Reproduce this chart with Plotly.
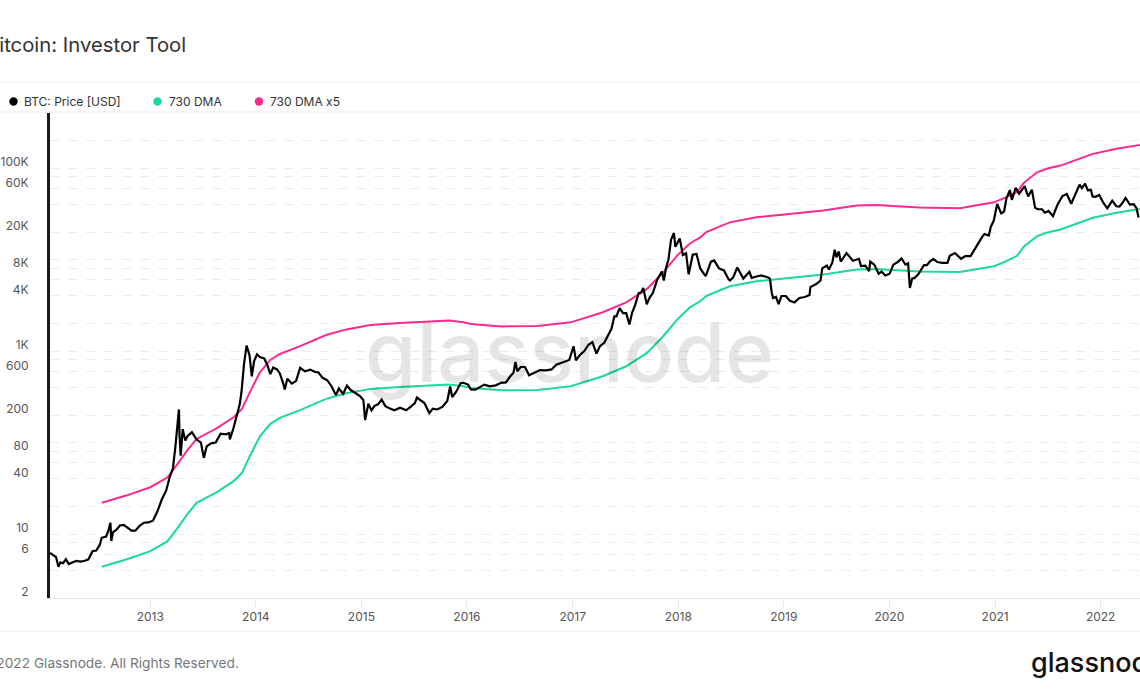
import math
import plotly.graph_objects as go

# ---------------- data ----------------
price_dates = [
    "2012-01-20", "2012-02-01", "2012-02-10", "2012-02-18", "2012-02-25", "2012-03-05", "2012-03-15", "2012-03-25",
    "2012-04-05", "2012-04-20", "2012-05-05", "2012-05-20", "2012-06-01", "2012-06-15", "2012-06-28", "2012-07-10",
    "2012-07-17", "2012-08-01", "2012-08-10", "2012-08-16", "2012-08-19", "2012-08-25", "2012-09-05", "2012-09-18",
    "2012-10-01", "2012-10-15", "2012-10-28", "2012-11-10", "2012-11-25", "2012-12-10", "2012-12-25", "2013-01-10",
    "2013-01-25", "2013-02-10", "2013-02-25", "2013-03-08", "2013-03-20", "2013-03-28", "2013-04-03", "2013-04-10",
    "2013-04-12", "2013-04-16", "2013-04-23", "2013-05-02", "2013-05-10", "2013-05-25", "2013-06-10", "2013-06-25",
    "2013-07-05", "2013-07-15", "2013-07-30", "2013-08-15", "2013-09-01", "2013-09-20", "2013-10-01", "2013-10-03",
    "2013-10-16", "2013-10-28", "2013-11-06", "2013-11-12", "2013-11-18", "2013-11-21", "2013-11-30", "2013-12-05",
    "2013-12-10", "2013-12-18", "2013-12-26", "2014-01-05", "2014-01-15", "2014-01-30", "2014-02-10", "2014-02-20",
    "2014-03-02", "2014-03-15", "2014-03-25", "2014-04-05", "2014-04-11", "2014-04-20", "2014-05-05", "2014-05-20",
    "2014-06-03", "2014-06-20", "2014-07-08", "2014-07-25", "2014-08-05", "2014-08-20", "2014-09-05", "2014-09-20",
    "2014-10-05", "2014-10-15", "2014-10-30", "2014-11-12", "2014-11-25", "2014-12-10", "2014-12-28", "2015-01-08",
    "2015-01-14", "2015-01-25", "2015-02-05", "2015-02-15", "2015-03-01", "2015-03-12", "2015-03-25", "2015-04-10",
    "2015-04-25", "2015-05-15", "2015-06-05", "2015-06-20", "2015-07-05", "2015-07-12", "2015-07-25", "2015-08-07",
    "2015-08-24", "2015-09-05", "2015-09-20", "2015-10-08", "2015-10-25", "2015-11-04", "2015-11-11", "2015-11-25",
    "2015-12-10", "2015-12-20", "2016-01-05", "2016-01-15", "2016-01-30", "2016-02-15", "2016-03-01", "2016-03-20",
    "2016-04-10", "2016-04-28", "2016-05-15", "2016-05-30", "2016-06-10", "2016-06-17", "2016-06-23", "2016-07-05",
    "2016-07-20", "2016-08-03", "2016-08-20", "2016-09-10", "2016-10-01", "2016-10-20", "2016-11-05", "2016-11-20",
    "2016-12-05", "2016-12-20", "2017-01-04", "2017-01-12", "2017-01-25", "2017-02-10", "2017-02-25", "2017-03-10",
    "2017-03-24", "2017-04-05", "2017-04-20", "2017-05-05", "2017-05-15", "2017-05-25", "2017-06-01", "2017-06-12",
    "2017-06-24", "2017-07-05", "2017-07-16", "2017-07-25", "2017-08-05", "2017-08-17", "2017-08-25", "2017-09-02",
    "2017-09-14", "2017-09-25", "2017-10-05", "2017-10-20", "2017-11-05", "2017-11-12", "2017-11-20", "2017-11-28",
    "2017-12-07", "2017-12-17", "2017-12-22", "2017-12-28", "2018-01-06", "2018-01-17", "2018-01-28", "2018-02-06",
    "2018-02-20", "2018-03-05", "2018-03-18", "2018-04-01", "2018-04-06", "2018-04-24", "2018-05-05", "2018-05-22",
    "2018-06-08", "2018-06-24", "2018-06-29", "2018-07-10", "2018-07-24", "2018-08-05", "2018-08-14", "2018-09-04",
    "2018-09-12", "2018-09-25", "2018-10-15", "2018-11-05", "2018-11-14", "2018-11-20", "2018-11-25", "2018-12-05",
    "2018-12-14", "2018-12-24", "2019-01-08", "2019-01-22", "2019-02-07", "2019-02-24", "2019-03-15", "2019-03-31",
    "2019-04-03", "2019-04-23", "2019-05-08", "2019-05-14", "2019-05-30", "2019-06-06", "2019-06-18", "2019-06-26",
    "2019-07-02", "2019-07-10", "2019-07-17", "2019-08-06", "2019-08-28", "2019-09-18", "2019-09-25", "2019-10-10",
    "2019-10-23", "2019-10-27", "2019-11-10", "2019-11-25", "2019-12-05", "2019-12-18", "2020-01-02", "2020-01-15",
    "2020-01-30", "2020-02-12", "2020-02-26", "2020-03-06", "2020-03-12", "2020-03-20", "2020-03-28", "2020-04-10",
    "2020-04-30", "2020-05-10", "2020-05-20", "2020-06-01", "2020-06-15", "2020-07-01", "2020-07-20", "2020-07-28",
    "2020-08-15", "2020-09-05", "2020-09-20", "2020-10-08", "2020-10-21", "2020-11-05", "2020-11-17", "2020-11-25",
    "2020-12-10", "2020-12-17", "2020-12-27", "2021-01-08", "2021-01-22", "2021-02-01", "2021-02-09", "2021-02-21",
    "2021-02-28", "2021-03-13", "2021-03-25", "2021-04-13", "2021-04-25", "2021-05-08", "2021-05-19", "2021-05-28",
    "2021-06-12", "2021-06-22", "2021-07-05", "2021-07-20", "2021-08-05", "2021-08-22", "2021-09-06", "2021-09-21",
    "2021-10-01", "2021-10-15", "2021-10-20", "2021-10-28", "2021-11-08", "2021-11-18", "2021-11-28", "2021-12-04",
    "2021-12-14", "2021-12-27", "2022-01-10", "2022-01-24", "2022-02-10", "2022-02-24", "2022-03-07", "2022-03-16",
    "2022-03-28", "2022-04-12", "2022-04-25", "2022-05-05", "2022-05-09", "2022-05-12",
]
price_usd = [
    6.2, 5.9, 5.6, 4.4, 4.9, 4.8, 5.3, 4.7,
    4.9, 5.1, 5.0, 5.1, 5.3, 6.5, 6.6, 7.6,
    9.1, 9.4, 11.2, 13.3, 8.4, 10.5, 11.1, 12.4,
    12.6, 11.8, 10.9, 10.9, 12.3, 13.3, 13.4, 14.0,
    17.5, 24.0, 30.0, 41.0, 52.0, 86.0, 130.0, 230.0,
    120.0, 72.0, 140.0, 105.0, 118.0, 130.0, 108.0, 100.0,
    68.0, 91.0, 98.0, 100.0, 125.0, 123.0, 127.0, 108.0,
    145.0, 200.0, 260.0, 350.0, 560.0, 720.0, 1150.0, 980.0,
    900.0, 530.0, 780.0, 920.0, 860.0, 830.0, 700.0, 560.0,
    660.0, 630.0, 570.0, 450.0, 380.0, 500.0, 440.0, 470.0,
    655.0, 600.0, 627.0, 590.0, 585.0, 510.0, 480.0, 410.0,
    330.0, 390.0, 340.0, 420.0, 375.0, 350.0, 320.0, 290.0,
    176.0, 265.0, 225.0, 250.0, 265.0, 295.0, 250.0, 235.0,
    225.0, 240.0, 225.0, 245.0, 270.0, 310.0, 290.0, 270.0,
    210.0, 235.0, 230.0, 245.0, 285.0, 410.0, 315.0, 360.0,
    445.0, 450.0, 430.0, 380.0, 378.0, 405.0, 430.0, 412.0,
    422.0, 450.0, 455.0, 530.0, 580.0, 760.0, 600.0, 670.0,
    670.0, 545.0, 580.0, 620.0, 615.0, 630.0, 710.0, 740.0,
    765.0, 800.0, 1130.0, 790.0, 900.0, 1000.0, 1180.0, 1250.0,
    940.0, 1130.0, 1230.0, 1550.0, 1750.0, 2400.0, 2400.0, 2950.0,
    2600.0, 2600.0, 1950.0, 2600.0, 3200.0, 4300.0, 4350.0, 4900.0,
    3250.0, 3900.0, 4300.0, 6000.0, 7400.0, 5900.0, 8200.0, 10000.0,
    16500.0, 19500.0, 13800.0, 15000.0, 17000.0, 11200.0, 11700.0, 6900.0,
    11300.0, 11500.0, 8000.0, 6900.0, 6600.0, 9500.0, 9800.0, 8000.0,
    7600.0, 6100.0, 5900.0, 6400.0, 8200.0, 7000.0, 6200.0, 7350.0,
    6300.0, 6500.0, 6700.0, 6400.0, 6200.0, 4400.0, 3800.0, 3900.0,
    3250.0, 4000.0, 4000.0, 3550.0, 3400.0, 3800.0, 3900.0, 4100.0,
    5000.0, 5400.0, 5900.0, 8000.0, 8600.0, 7800.0, 9300.0, 12800.0,
    10600.0, 12300.0, 9500.0, 11800.0, 9700.0, 10200.0, 8500.0, 8600.0,
    7500.0, 9500.0, 8800.0, 7000.0, 7400.0, 6700.0, 7000.0, 8800.0,
    9400.0, 10300.0, 8800.0, 9100.0, 4900.0, 6200.0, 6300.0, 6900.0,
    8700.0, 8700.0, 9500.0, 10200.0, 9400.0, 9200.0, 9200.0, 11000.0,
    11800.0, 10200.0, 10900.0, 10900.0, 12800.0, 15500.0, 17700.0, 19000.0,
    18300.0, 22800.0, 26500.0, 40500.0, 32000.0, 33500.0, 46500.0, 57500.0,
    45000.0, 61000.0, 52500.0, 63500.0, 49000.0, 58000.0, 37000.0, 35500.0,
    35500.0, 32500.0, 34000.0, 29800.0, 40000.0, 49500.0, 52000.0, 40800.0,
    48000.0, 61500.0, 66000.0, 60500.0, 67500.0, 57000.0, 58000.0, 49000.0,
    48500.0, 50800.0, 41800.0, 36300.0, 44000.0, 38300.0, 38000.0, 41000.0,
    47100.0, 40000.0, 40400.0, 36500.0, 30100.0, 28900.0,
]

dma_dates = [
    "2012-07-17", "2012-10-12", "2013-01-01", "2013-03-01", "2013-04-01", "2013-05-08", "2013-06-10", "2013-08-18",
    "2013-10-16", "2013-11-14", "2013-12-14", "2014-01-15", "2014-02-20", "2014-03-25", "2014-06-01", "2014-09-01",
    "2014-11-10", "2015-02-01", "2015-05-15", "2015-08-15", "2015-11-01", "2015-12-20", "2016-01-15", "2016-05-01",
    "2016-09-01", "2016-12-25", "2017-04-15", "2017-07-05", "2017-09-15", "2017-11-10", "2017-12-28", "2018-02-10",
    "2018-03-18", "2018-04-08", "2018-06-28", "2018-09-28", "2019-01-22", "2019-05-18", "2019-09-10", "2019-11-18",
    "2020-01-26", "2020-04-15", "2020-09-01", "2020-12-28", "2021-02-05", "2021-03-18", "2021-04-10", "2021-05-26",
    "2021-07-01", "2021-08-15", "2021-12-05", "2022-02-25", "2022-05-17",
]
dma_730 = [
    4.4, 5.3, 6.5, 8.3, 11.2, 16.3, 21.9, 28.6,
    37.8, 46.7, 74.0, 117.0, 160.0, 186.0, 225.0, 300.0,
    345.0, 386.0, 406.0, 423.0, 432.0, 412.0, 395.0, 372.0,
    375.0, 412.0, 531.0, 682.0, 955.0, 1452.0, 2208.0, 3000.0,
    3500.0, 4000.0, 5100.0, 5800.0, 6310.0, 6860.0, 7780.0, 7910.0,
    7640.0, 7400.0, 7300.0, 8450.0, 9500.0, 11000.0, 13800.0, 18000.0,
    19800.0, 21300.0, 28600.0, 32500.0, 35800.0,
]
dma_multiplier = 5
dma_730_x5 = [v * dma_multiplier for v in dma_730]

series_names = ["BTC: Price [USD]", "730 DMA", "730 DMA x5"]
series_colors = ["#000000", "#1ad99b", "#fc2a8f"]

year_tick_vals = [f"{y}-01-01" for y in range(2013, 2023)]
year_tick_text = [str(y) for y in range(2013, 2023)]

y_tick_vals = [2, 4, 6, 8, 10, 20, 40, 60, 80, 100, 200, 400, 600, 800,
               1000, 2000, 4000, 6000, 8000, 10000, 20000, 40000, 60000, 80000,
               100000, 200000]
y_tick_text = ["2", "", "6", "", "10", "", "40", "", "80", "", "200", "", "600", "",
               "1K", "", "4K", "", "8K", "", "20K", "", "60K", "", "100K", ""]

x_range = ["2012-01-20", "2022-05-17"]
y_range_vals = [2, 400000]

# ---------------- layout geometry ----------------
W, H = 1140, 694
ML, MR, MT, MB = 50, 0, 113, 96
PW, PH = W - ML - MR, H - MT - MB


def px(x):
    return (x - ML) / PW


def py(y):
    return (H - MB - y) / PH


FONT = "Inter, 'Open Sans', 'DejaVu Sans', sans-serif"

fig = go.Figure()

fig.add_trace(go.Scatter(x=dma_dates, y=dma_730, mode="lines", name=series_names[1],
                         line=dict(color=series_colors[1], width=2), showlegend=False))
fig.add_trace(go.Scatter(x=dma_dates, y=dma_730_x5, mode="lines", name=series_names[2],
                         line=dict(color=series_colors[2], width=2), showlegend=False))
fig.add_trace(go.Scatter(x=price_dates, y=price_usd, mode="lines", name=series_names[0],
                         line=dict(color=series_colors[0], width=2.2), showlegend=False))

annotations = []
# title (left part clipped like the reference)
annotations.append(dict(text="Bitcoin: Investor Tool", xref="paper", yref="paper",
                        x=px(188), y=py(44), xanchor="right", yanchor="middle",
                        showarrow=False, font=dict(family=FONT, size=20.3, color="#333333")))
# legend
legend_dot_x = [13.5, 157.5, 259]
legend_text_x = [22, 166.5, 268]
shapes = []
for name, col, dx, tx in zip(series_names, series_colors, legend_dot_x, legend_text_x):
    shapes.append(dict(type="circle", xref="paper", yref="paper",
                       x0=px(dx - 4.2), x1=px(dx + 4.2), y0=py(101.5 + 4.2), y1=py(101.5 - 4.2),
                       fillcolor=col, line=dict(width=0)))
    annotations.append(dict(text=name, xref="paper", yref="paper", x=px(tx), y=py(101.5),
                            xanchor="left", yanchor="middle", showarrow=False,
                            font=dict(family=FONT, size=12, color="#333333")))
# watermark
annotations.append(dict(text="glassnode", xref="paper", yref="paper", x=px(569), y=py(352),
                        xanchor="center", yanchor="middle", showarrow=False,
                        font=dict(family=FONT, size=83, color="rgba(0,0,0,0.1)", weight=500)))
# footer
annotations.append(dict(text="© 2022 Glassnode. All Rights Reserved.", xref="paper", yref="paper",
                        x=px(241), y=py(663), xanchor="right", yanchor="middle", showarrow=False,
                        font=dict(family=FONT, size=13.7, color="#777777")))
annotations.append(dict(text="glassnode", xref="paper", yref="paper",
                        x=px(1029), y=py(662), xanchor="left", yanchor="middle", showarrow=False,
                        font=dict(family=FONT, size=27, color="#111111", weight=500)))

# separators
for yy in (82, 112, 631):
    shapes.append(dict(type="line", xref="paper", yref="paper", x0=px(0), x1=px(W),
                       y0=py(yy), y1=py(yy), line=dict(color="#ebebeb", width=1)))

fig.update_layout(
    width=W, height=H,
    margin=dict(l=ML, r=MR, t=MT, b=MB, pad=0),
    paper_bgcolor="white", plot_bgcolor="white",
    template="none",
    showlegend=False,
    annotations=annotations,
    shapes=shapes,
    font=dict(family=FONT, size=12, color="#555555"),
    xaxis=dict(type="date", range=x_range, tickmode="array", tickvals=year_tick_vals,
               ticktext=year_tick_text, showgrid=False, zeroline=False,
               showline=True, linecolor="#e6e6e6", linewidth=1,
               ticks="outside", ticklen=8, tickcolor="#e6e6e6", tickwidth=1,
               tickfont=dict(family=FONT, size=12, color="#555555"), automargin=False),
    yaxis=dict(type="log", range=[math.log10(y_range_vals[0]), math.log10(y_range_vals[1])],
               tickmode="array", tickvals=y_tick_vals, ticktext=y_tick_text,
               showgrid=True, gridcolor="#ececec", griddash="dash", gridwidth=1,
               zeroline=False, showline=True, linecolor="#1a1a1a", linewidth=3,
               ticks="", ticklabelposition="outside", ticklabelshift=-6, ticklabelstandoff=16,
               tickfont=dict(family=FONT, size=12, color="#555555"), automargin=False),
)

fig.write_html("out.html", config={"displayModeBar": False},
               post_script="document.body.style.margin='0px';document.body.style.overflow='hidden';")
